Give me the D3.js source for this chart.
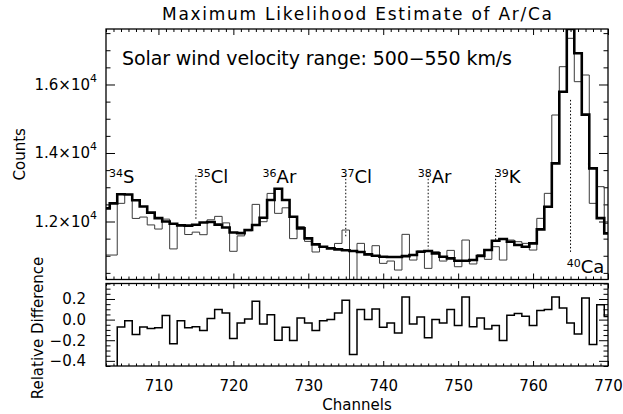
<!DOCTYPE html>
<html>
<head>
<meta charset="utf-8">
<script src="https://cdn.jsdelivr.net/npm/d3@7"></script>
<style>
  body { margin: 0; background: #fff; }
  text { font-family: "DejaVu Sans", sans-serif; fill: #000; }
</style>
</head>
<body>
<svg id="chart" width="623" height="414"></svg>
<script>
(function() {
  'use strict';

  // channel range shown on the x axis
  var firstChannel = 703;
  var lastChannel = 770;

  // maximum likelihood model (thick line), one value per channel 703..770
  var modelCounts = [
    12384, 12530, 12795, 12790, 12620, 12440, 12260, 12100, 12000, 11935,
    11888, 11880, 11905, 11970, 11985, 11910, 11825, 11680, 11660, 11751,
    11897, 12110, 12627, 12955, 12627, 12140, 11800, 11508, 11333, 11265,
    11216, 11187, 11160, 11140, 11110, 11040, 11002, 10972, 10965, 10965,
    10990, 11021, 11118, 11138, 11070, 10972, 10924, 10855, 10855, 10875,
    10992, 11167, 11440, 11489, 11411, 11313, 11265, 11362, 11771, 12433,
    13698, 15790, 17620, 16910, 15120, 13552, 12100, 11654
  ];

  // measured counts (thin line)
  var dataCounts = [
    11021, 11021, 12530, 12792, 12090, 12130, 11900, 11780, 12070, 11200,
    11880, 11620, 11690, 11615, 12050, 12150, 11960, 11130, 11580, 11730,
    12500, 11994, 12820, 12238, 12400, 11500, 11850, 11420, 11110, 11250,
    11216, 11360, 11751, 10100, 11362, 11030, 11294, 10778, 10846, 10583,
    11625, 10875, 11138, 10632, 11118, 10846, 11157, 10680, 11459, 10760,
    11030, 10895, 11265, 10875, 11459, 11411, 11362, 11167, 12092, 12822,
    15109, 16520, 17348, 16082, 16277, 12530, 13017, 11946
  ];

  // relative difference (lower panel)
  var relDiff = [
    -0.6, -0.6, -0.071, -0.01, -0.145, -0.071, -0.087, -0.08, 0.039, -0.235,
    -0.01, -0.08, -0.07, -0.106, 0.01, 0.097, 0.064, -0.184, -0.033, 0.006,
    0.177, -0.042, 0.048, -0.2, -0.074, -0.203, 0.016, -0.033, -0.106, -0.01,
    0.0, 0.064, 0.187, -0.338, 0.097, 0.0, 0.103, -0.074, -0.033, -0.13,
    0.219, -0.042, 0.026, -0.177, 0.0, -0.033, 0.097, -0.058, 0.219, -0.07,
    0.016, -0.09, -0.058, -0.203, 0.042, 0.058, 0.032, -0.058, 0.087, 0.097,
    0.219, 0.113, -0.033, -0.139, 0.209, -0.242, 0.145, 0.03
  ];

  var channelTicks = [710, 720, 730, 740, 750, 760, 770];
  var countTicks = [12000, 14000, 16000];
  var diffTicks = [-0.4, -0.2, 0.0, 0.2];

  // isotope annotations
  var isoMass = ["34", "35", "36", "37", "38", "39", "40"];
  var isoElem = ["S", "Cl", "Ar", "Cl", "Ar", "K", "Ca"];
  var isoLabelChannel = [703.4, 715.1, 723.9, 734.3, 744.6, 754.9, 764.5];
  var isoLabelCount = [13124, 13124, 13124, 13124, 13124, 13124, 10496];

  // dotted marker lines
  var lineChannel = [715, 735, 746, 755, 765];
  var lineTop = [13350, 13350, 13350, 13350, 15550];
  var lineBottom = [12040, 11530, 11190, 11450, 11080];

  var svg = d3.select("#chart");
  var left = 106, right = 608;
  var topPanel = {y0: 29, y1: 279.5};
  var botPanel = {y0: 283.5, y1: 366};

  var x = d3.scaleLinear().domain([firstChannel, lastChannel]).range([left, right]);
  var yc = d3.scaleLinear().domain([10307, 17620]).range([topPanel.y1, topPanel.y0]);
  var yd = d3.scaleLinear().domain([-0.45, 0.35]).range([botPanel.y1, botPanel.y0]);

  var channels = d3.range(firstChannel, lastChannel + 1);
  var minorChannels = channels.filter(function(c) { return c % 10 !== 0; });
  var minorCounts = d3.range(10500, 17620, 500).filter(function(v) { return v % 2000 !== 0; });
  var minorDiffs = d3.range(-0.45, 0.351, 0.05).filter(function(v) {
    return Math.abs(Math.round(v * 100) % 20) !== 0;
  });

  var defs = svg.append("defs");
  defs.append("clipPath").attr("id", "clipTop").append("rect")
    .attr("x", left).attr("y", topPanel.y0)
    .attr("width", right - left).attr("height", topPanel.y1 - topPanel.y0);
  defs.append("clipPath").attr("id", "clipBot").append("rect")
    .attr("x", left).attr("y", botPanel.y0)
    .attr("width", right - left).attr("height", botPanel.y1 - botPanel.y0);

  function stepLine(yScale, values) {
    return d3.line()
      .curve(d3.curveStep)
      .x(function(d, i) { return x(channels[i]); })
      .y(function(d) { return yScale(d); })(values);
  }

  // ---- ticks (IDL style, inward on all four sides) ----
  function xTicks(panel, majorLen, minorLen) {
    var sides = [
      {axis: d3.axisBottom, y: panel.y1, sign: -1},
      {axis: d3.axisTop, y: panel.y0, sign: -1}
    ];
    sides.forEach(function(s) {
      svg.append("g").attr("class", "tick-minor")
        .attr("transform", "translate(0," + s.y + ")")
        .call(s.axis(x).tickValues(minorChannels).tickSize(s.sign * minorLen).tickFormat(""));
      svg.append("g").attr("class", "tick-major")
        .attr("transform", "translate(0," + s.y + ")")
        .call(s.axis(x).tickValues(channelTicks).tickSize(s.sign * majorLen).tickFormat(""));
    });
  }

  function yTicks(scale, majors, minors, majorLen, minorLen) {
    [{axis: d3.axisLeft, x: left}, {axis: d3.axisRight, x: right}].forEach(function(s) {
      svg.append("g").attr("class", "tick-minor")
        .attr("transform", "translate(" + s.x + ",0)")
        .call(s.axis(scale).tickValues(minors).tickSize(-minorLen).tickFormat(""));
      svg.append("g").attr("class", "tick-major")
        .attr("transform", "translate(" + s.x + ",0)")
        .call(s.axis(scale).tickValues(majors).tickSize(-majorLen).tickFormat(""));
    });
  }

  xTicks(topPanel, 6, 3);
  xTicks(botPanel, 5, 2.5);
  yTicks(yc, countTicks, minorCounts, 9, 4.5);
  yTicks(yd, diffTicks, minorDiffs, 9, 4.5);

  svg.selectAll(".tick-minor .domain, .tick-major .domain").remove();
  svg.selectAll(".tick line").attr("stroke", "#000").attr("stroke-width", 1);

  // ---- tick labels ----
  svg.append("g")
    .attr("transform", "translate(0," + botPanel.y1 + ")")
    .call(d3.axisBottom(x).tickValues(channelTicks).tickSize(0).tickPadding(14))
    .call(function(g) { g.select(".domain").remove(); })
    .selectAll("text").attr("font-size", 15).attr("font-family", "DejaVu Sans");

  svg.append("g")
    .attr("transform", "translate(" + left + ",0)")
    .call(d3.axisLeft(yd).tickValues(diffTicks).tickSize(0).tickPadding(20)
      .tickFormat(function(d) { return d3.format(".1f")(d).replace("-", "\u2212"); }))
    .call(function(g) { g.select(".domain").remove(); })
    .selectAll("text").attr("font-size", 15).attr("font-family", "DejaVu Sans");

  var countLabels = svg.append("g").selectAll("text")
    .data(countTicks).enter().append("text")
    .attr("x", 97)
    .attr("y", function(d) { return yc(d) + 5.5; })
    .attr("text-anchor", "end")
    .attr("font-size", 15);
  countLabels.append("tspan").text(function(d) { return (d / 1e4).toFixed(1) + "\u00d710"; });
  countLabels.append("tspan").attr("dy", -8).attr("font-size", 11).text("4");

  // ---- histograms ----
  svg.append("path")
    .attr("clip-path", "url(#clipTop)")
    .attr("d", stepLine(yc, dataCounts))
    .attr("fill", "none").attr("stroke", "#3a3a3a").attr("stroke-width", 1);

  svg.append("path")
    .attr("clip-path", "url(#clipTop)")
    .attr("d", stepLine(yc, modelCounts))
    .attr("fill", "none").attr("stroke", "#000").attr("stroke-width", 2.6);

  svg.append("path")
    .attr("clip-path", "url(#clipBot)")
    .attr("d", stepLine(yd, relDiff))
    .attr("fill", "none").attr("stroke", "#000").attr("stroke-width", 1.5);

  // dotted isotope markers
  svg.append("g").selectAll("line")
    .data(lineChannel).enter().append("line")
    .attr("x1", function(d) { return x(d); })
    .attr("x2", function(d) { return x(d); })
    .attr("y1", function(d, i) { return yc(lineTop[i]); })
    .attr("y2", function(d, i) { return yc(lineBottom[i]); })
    .attr("stroke", "#000").attr("stroke-width", 1)
    .attr("stroke-dasharray", "1.5,2");

  var isoLabels = svg.append("g").selectAll("text")
    .data(isoElem).enter().append("text")
    .attr("x", function(d, i) { return x(isoLabelChannel[i]); })
    .attr("y", function(d, i) { return yc(isoLabelCount[i]); })
    .attr("font-size", 18);
  isoLabels.append("tspan").attr("font-size", 11).attr("dy", -6)
    .text(function(d, i) { return isoMass[i]; });
  isoLabels.append("tspan").attr("dy", 6).text(function(d) { return d; });

  // ---- frames ----
  [topPanel, botPanel].forEach(function(p) {
    svg.append("rect")
      .attr("x", left).attr("y", p.y0)
      .attr("width", right - left).attr("height", p.y1 - p.y0)
      .attr("fill", "none").attr("stroke", "#000").attr("stroke-width", 1.3);
  });

  // ---- titles ----
  svg.append("text")
    .attr("x", (left + right) / 2).attr("y", 20)
    .attr("text-anchor", "middle").attr("font-size", 17)
    .attr("textLength", 390).attr("lengthAdjust", "spacing")
    .text("Maximum Likelihood Estimate of Ar/Ca");

  svg.append("text")
    .attr("x", 122).attr("y", 64.5)
    .attr("font-size", 19)
    .attr("textLength", 390).attr("lengthAdjust", "spacing")
    .text("Solar wind velocity range: 500\u2212550 km/s");

  svg.append("text")
    .attr("x", (left + right) / 2).attr("y", 410)
    .attr("text-anchor", "middle").attr("font-size", 15)
    .text("Channels");

  svg.append("text")
    .attr("transform", "translate(25," + (topPanel.y0 + topPanel.y1) / 2 + ") rotate(-90)")
    .attr("text-anchor", "middle").attr("font-size", 15)
    .text("Counts");

  svg.append("text")
    .attr("transform", "translate(43," + 328 + ") rotate(-90)")
    .attr("text-anchor", "middle").attr("font-size", 15)
    .text("Relative Difference");
}());
</script>
</body>
</html>
